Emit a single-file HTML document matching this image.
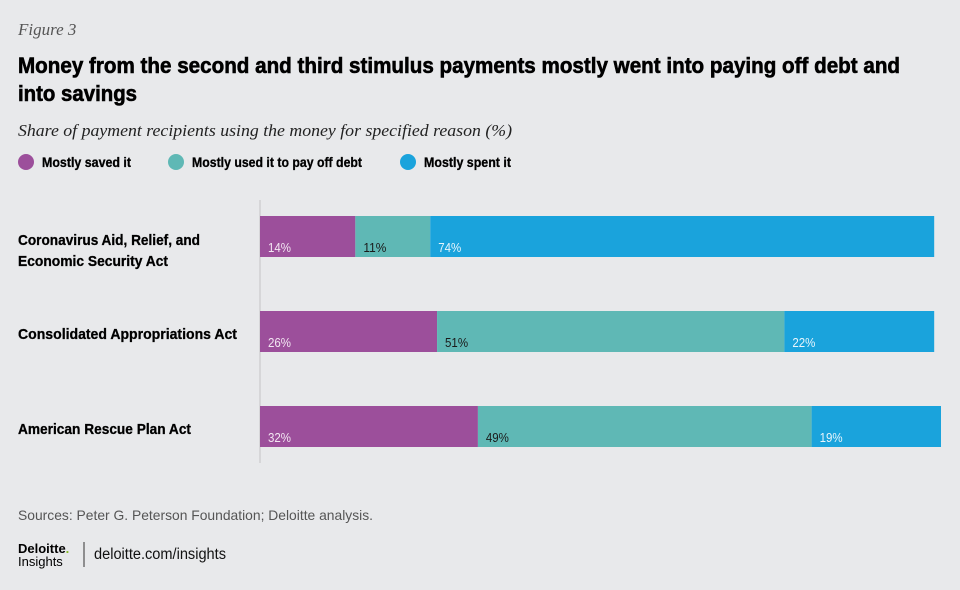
<!DOCTYPE html>
<html><head><meta charset="utf-8"><style>
html,body{margin:0;padding:0;background:#e8e9eb;}
svg{display:block;font-family:"Liberation Sans",sans-serif;}
</style></head><body>
<svg width="960" height="590" viewBox="0 0 960 590">
<rect width="960" height="590" fill="#e8e9eb"/>
<text x="18" y="35" font-family="Liberation Serif" font-style="italic" font-size="17" fill="#555">Figure 3</text>
<text x="18" y="73" font-weight="bold" font-size="22" fill="#000" stroke="#000" stroke-width="0.6" textLength="882" lengthAdjust="spacingAndGlyphs">Money from the second and third stimulus payments mostly went into paying off debt and</text>
<text x="18" y="101" font-weight="bold" font-size="22" fill="#000" stroke="#000" stroke-width="0.6" textLength="119" lengthAdjust="spacingAndGlyphs">into savings</text>
<text x="18" y="136" font-family="Liberation Serif" font-style="italic" font-size="17" fill="#222" textLength="494" lengthAdjust="spacingAndGlyphs">Share of payment recipients using the money for specified reason (%)</text>
<g id="legend"></g>
<line x1="260" y1="200" x2="260" y2="463" stroke="#cfd0d2" stroke-width="1.5"/>
<g id="bars"></g>
<text x="18" y="520" font-size="14" fill="#555" textLength="355" lengthAdjust="spacingAndGlyphs">Sources: Peter G. Peterson Foundation; Deloitte analysis.</text>
<text x="18" y="553" font-weight="bold" font-size="13" fill="#000">Deloitte<tspan fill="#86bc25">.</tspan></text>
<text x="18" y="566" font-size="13" fill="#000">Insights</text>
<line x1="84" y1="542" x2="84" y2="567" stroke="#333" stroke-width="1"/>
<text x="94" y="559" font-size="15.5" fill="#111" textLength="132" lengthAdjust="spacingAndGlyphs">deloitte.com/insights</text>
</svg>
<script>
const categories = ["Coronavirus Aid, Relief, and|Economic Security Act","Consolidated Appropriations Act","American Rescue Plan Act"];
const seriesNames = ["Mostly saved it","Mostly used it to pay off debt","Mostly spent it"];
const savedValues = [14,26,32];
const debtValues = [11,51,49];
const spentValues = [74,22,19];
const colors = ["#9c4f9b","#5fb8b5","#1aa3dc"];
const labelColors = ["#f2e6f2","#1a1a1a","#e8f5fc"];
const NS="http://www.w3.org/2000/svg";
const x0=260, pxPer=6.81;
function xScale(v){return x0+v*pxPer;}
function yBand(i){return 216+i*95;}
const bh=41;
// rendered text widths (layout, not data)
const textWidths={"Mostly saved it":89,"Mostly used it to pay off debt":170,"Mostly spent it":87,
 "Coronavirus Aid, Relief, and":182,"Economic Security Act":150,"Consolidated Appropriations Act":219,"American Rescue Plan Act":173};
const legend=document.getElementById('legend');
const legX=[26,176,408];
seriesNames.forEach((n,i)=>{
  const c=document.createElementNS(NS,'circle');
  c.setAttribute('cx',legX[i]);c.setAttribute('cy',162);c.setAttribute('r',8);c.setAttribute('fill',colors[i]);
  
  
  legend.appendChild(c);
  const t=document.createElementNS(NS,'text');
  t.setAttribute('x',legX[i]+16);t.setAttribute('y',167);t.setAttribute('font-size','14');t.setAttribute('font-weight','bold');
  t.setAttribute('stroke','#000');t.setAttribute('stroke-width','0.3');
  if(textWidths[n]){t.setAttribute('textLength',textWidths[n]);t.setAttribute('lengthAdjust','spacingAndGlyphs');}
  t.textContent=n;
  
  
  legend.appendChild(t);
});
const bars=document.getElementById('bars');
const series=[savedValues,debtValues,spentValues];
categories.forEach((cat,i)=>{
  const y=yBand(i);
  const lines=cat.split('|');
  lines.forEach((ln,k)=>{
    const t=document.createElementNS(NS,'text');
    t.setAttribute('x',18);
    t.setAttribute('y',lines.length>1?y+29+k*21:y+28);
    t.setAttribute('font-size','15');t.setAttribute('font-weight','bold');
    t.setAttribute('stroke','#000');t.setAttribute('stroke-width','0.3');
    if(textWidths[ln]){t.setAttribute('textLength',textWidths[ln]);t.setAttribute('lengthAdjust','spacingAndGlyphs');}
    t.textContent=ln;
    
    
    bars.appendChild(t);
  });
  let cum=0;
  series.forEach((s,j)=>{
    const v=s[i];
    const r=document.createElementNS(NS,'rect');
    r.setAttribute('x',xScale(cum));r.setAttribute('y',y);
    r.setAttribute('width',xScale(cum+v)-xScale(cum));r.setAttribute('height',bh);
    r.setAttribute('fill',colors[j]);
    
    
    bars.appendChild(r);
    const t=document.createElementNS(NS,'text');
    t.setAttribute('x',xScale(cum)+8);t.setAttribute('y',y+36);
    t.setAttribute('font-size','13');t.setAttribute('fill',labelColors[j]);
    t.setAttribute('textLength',23);t.setAttribute('lengthAdjust','spacingAndGlyphs');
    t.textContent=v+'%';
    
    
    bars.appendChild(t);
    cum+=v;
  });
});
</script>
</body></html>
